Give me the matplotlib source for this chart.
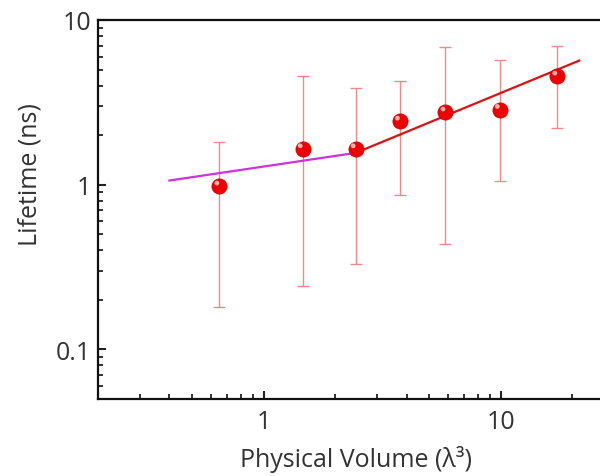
import matplotlib
matplotlib.use("Agg")
import matplotlib.pyplot as plt
import matplotlib.transforms as mtransforms
from matplotlib.ticker import LogLocator, FixedLocator, FixedFormatter, NullFormatter
import numpy as np

plt.rcParams['font.family'] = ['Open Sans', 'DejaVu Sans']

# Measured lifetimes vs. physical volume
volume = [0.65, 1.46, 2.44, 3.75, 5.84, 9.9, 17.3]
lifetime = [0.98, 1.65, 1.65, 2.43, 2.76, 2.86, 4.56]
err_upper = [1.82, 4.58, 3.87, 4.25, 6.83, 5.72, 6.98]
err_lower = [0.182, 0.244, 0.332, 0.87, 0.439, 1.06, 2.21]

# Two power-law fit segments (endpoints)
fit_low_x = [0.40, 2.44]
fit_low_y = [1.06, 1.56]
fit_high_x = [2.44, 21.4]
fit_high_y = [1.56, 5.67]

x_ticks = [1, 10]
x_ticklabels = ["1", "10"]
y_ticks = [0.1, 1, 10]
y_ticklabels = ["0.1", "1", "10"]

fig = plt.figure(figsize=(6.0, 4.77), dpi=100)
ax = fig.add_axes([98 / 600, 77 / 477, (614 - 98) / 600, (400 - 21) / 477])
ax.set_xscale('log')
ax.set_yscale('log')
ax.set_xlim(0.2, 30)
ax.set_ylim(0.05, 10)

vol = np.array(volume)
lt = np.array(lifetime)
yerr = np.vstack([lt - np.array(err_lower), np.array(err_upper) - lt])

ax.errorbar(vol, lt, yerr=yerr, fmt='none', ecolor='#ee8a8a', elinewidth=1.0,
            capsize=4.5, capthick=1.0, zorder=2)

ax.plot(fit_low_x, fit_low_y, color='#cc33dd', lw=1.6, zorder=3)
ax.plot(fit_high_x, fit_high_y, color='#e01010', lw=1.6, zorder=3)

# sphere-like markers with a small highlight
ax.scatter(vol, lt, s=120, color='#ee0000', edgecolors='#d00000', linewidths=0.5, zorder=4)
hl = mtransforms.offset_copy(ax.transData, fig=fig, x=-1.8, y=2.2, units='points')
ax.scatter(vol, lt, s=12, color='#ffb0b0', edgecolors='none', zorder=5, transform=hl)

ax.xaxis.set_major_locator(FixedLocator(x_ticks))
ax.xaxis.set_major_formatter(FixedFormatter(x_ticklabels))
ax.yaxis.set_major_locator(FixedLocator(y_ticks))
ax.yaxis.set_major_formatter(FixedFormatter(y_ticklabels))
ax.xaxis.set_minor_locator(LogLocator(base=10, subs=np.arange(2, 10)))
ax.yaxis.set_minor_locator(LogLocator(base=10, subs=np.arange(2, 10)))
ax.xaxis.set_minor_formatter(NullFormatter())
ax.yaxis.set_minor_formatter(NullFormatter())

ax.tick_params(which='major', direction='in', length=6, width=1.5, labelsize=18,
               colors='#222222', labelcolor='#333333', pad=5)
ax.tick_params(axis='x', which='major', pad=7)
ax.tick_params(which='minor', direction='in', length=3.5, width=1.3, colors='#222222')

for side in ['left', 'bottom', 'top', 'right']:
    ax.spines[side].set_linewidth(1.6)
    ax.spines[side].set_color('#111111')

ax.set_xlabel('Physical Volume (λ³)', fontsize=18, color='#333333', labelpad=8)
ax.set_ylabel('Lifetime (ns)', fontsize=18, color='#333333')
ax.yaxis.set_label_coords(-0.108, 0.596)

fig.savefig('out.png', dpi=100)
